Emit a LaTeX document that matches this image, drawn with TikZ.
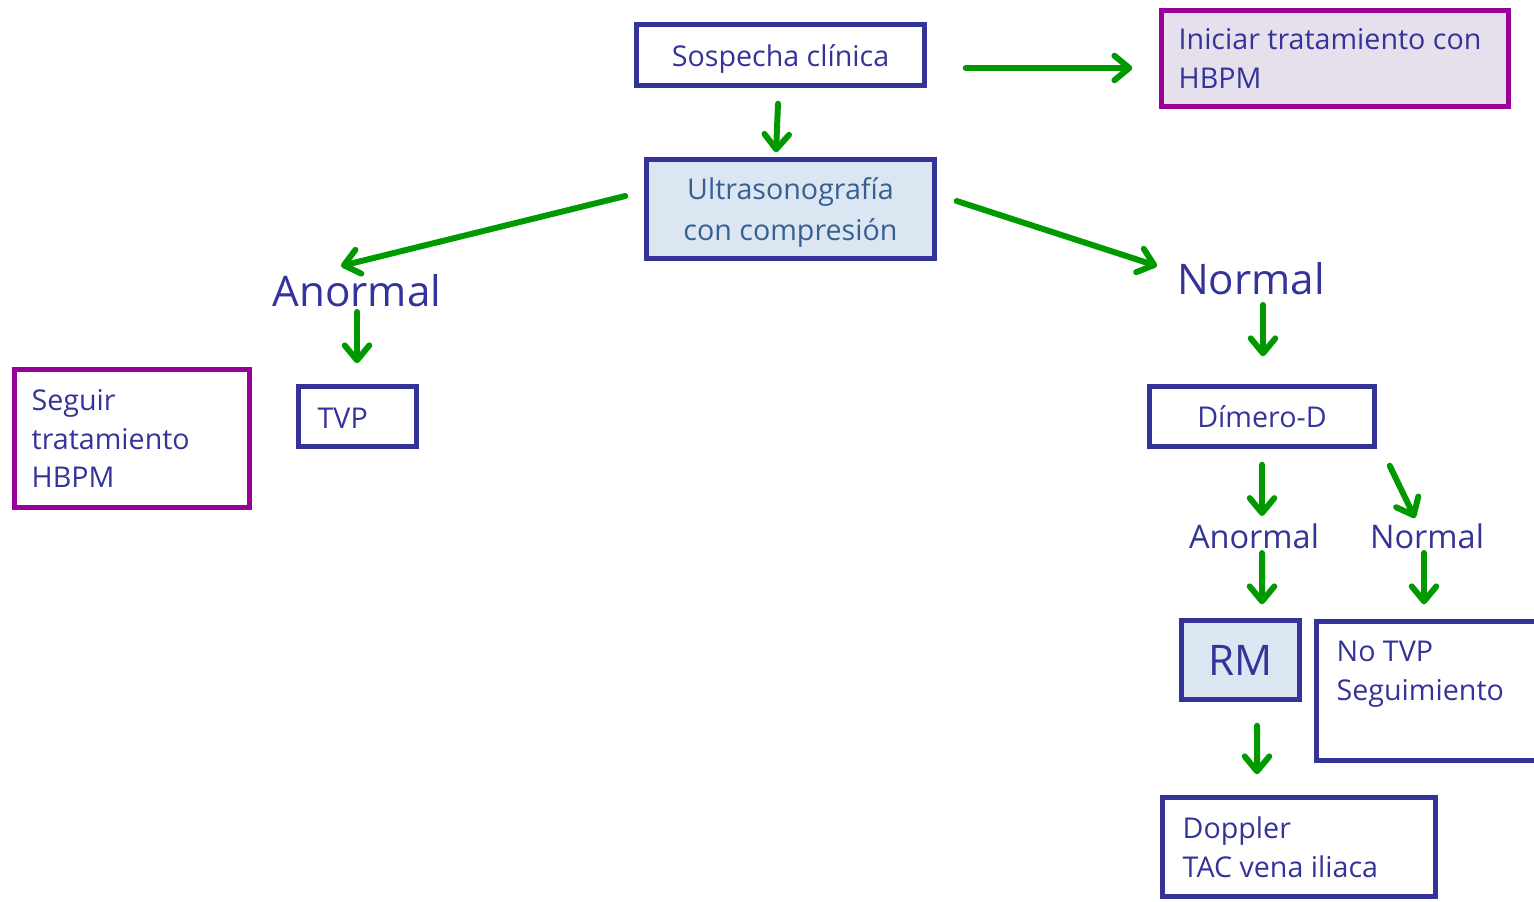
\documentclass[tikz,border=0pt]{standalone}
\usepackage{fontspec}
\setmainfont{Open Sans}
\usetikzlibrary{arrows.meta}
\definecolor{azul}{RGB}{51,51,153}
\definecolor{morado}{RGB}{153,0,153}
\definecolor{verde}{RGB}{0,153,0}
\definecolor{celeste}{RGB}{220,230,242}
\definecolor{lila}{RGB}{230,224,236}
\definecolor{azultexto}{RGB}{55,96,146}

\begin{document}
\begin{tikzpicture}[x=0.02cm,y=-0.02cm,
	caja/.style={draw=azul, line width=3.1pt, inner sep=0pt},
	cajamorada/.style={draw=morado, line width=3.1pt, inner sep=0pt},
	texto/.style={text=azul, font=\fontsize{16.3}{22}\selectfont, inner sep=0pt},
	grande/.style={text=azul, font=\fontsize{24}{28}\selectfont, inner sep=0pt},
	mediano/.style={text=azul, font=\fontsize{18.5}{22}\selectfont, inner sep=0pt},
	flecha/.style={draw=verde, line width=3.4pt, line cap=round, -{Straight Barb[length=8.5pt,width=14pt,round]}}]
		\useasboundingbox (0,0) rectangle (1534,902);
		% cajas
		\node[caja, texto, text height=17.5pt, minimum width=5.76cm, minimum height=1.22cm] (sospecha) at (780.5,55) {Sospecha clínica};
		\node[cajamorada, fill=lila, minimum width=6.94cm, minimum height=1.92cm] (iniciar) at (1335,58.5) {};
		\node[texto, anchor=west, align=left] (iniciartxt) at ([xshift=0.39cm]iniciar.west) {Iniciar tratamiento con\\HBPM};
		\node[caja, texto, font=\fontsize{16.3}{23}\selectfont, text depth=0pt, fill=celeste, text=azultexto, align=center, minimum width=5.76cm, minimum height=1.98cm] (ultra) at (790.5,209) {Ultrasonografía\\con compresión};
		\node[grande] (anormal) at (357,291) {Anormal};
		\node[grande] (normal) at (1251,279) {Normal};
		\node[caja, minimum width=2.36cm, minimum height=1.2cm] (tvp) at (357.5,416.5) {};
		\node[texto, anchor=west] (tvptxt) at ([shift={(0.43cm,-0.03cm)}]tvp.west) {TVP};
		\node[cajamorada, minimum width=4.7cm, minimum height=2.76cm] (seguir) at (132,438.5) {};
		\node[texto, anchor=west, align=left] (seguirtxt) at ([xshift=0.39cm]seguir.west) {Seguir\\tratamiento\\HBPM};
		\node[caja, texto, minimum width=4.5cm, minimum height=1.2cm] (dimero) at (1262,416.5) {Dímero-D};
		\node[mediano] (anormal2) at (1254,536) {Anormal};
		\node[mediano] (normal2) at (1427,536) {Normal};
		\node[caja, grande, fill=celeste, minimum width=2.36cm, minimum height=1.58cm] (rm) at (1240.5,660) {RM};
		\node[caja, minimum width=4.57cm, minimum height=2.78cm] (notvp) at (1430.75,691) {};
		\node[texto, anchor=west, align=left] (notvptxt) at ([shift={(0.45cm,0.33cm)}]notvp.west) {No TVP\\Seguimiento};
		\node[caja, minimum width=5.46cm, minimum height=1.98cm] (doppler) at (1299,847) {};
		\node[texto, anchor=west, align=left] (dopplertxt) at ([xshift=0.45cm]doppler.west) {Doppler\\TAC vena iliaca};
		% flechas
		\draw[flecha] ([shift={(-2.5,15.5)}]sospecha.south) -- ([shift={(-14.5,-4.5)}]ultra.north);
		\draw[flecha] ([shift={(38.5,13)}]sospecha.east) -- ([shift={(-26.5,9.5)}]iniciar.west);
		\draw[flecha] ([shift={(-18.5,-13)}]ultra.west) -- ([shift={(-16,-25)}]anormal.center);
		\draw[flecha] ([shift={(19.5,-8)}]ultra.east) -- ([shift={(-94,-13)}]normal.center);
		\draw[flecha] ([shift={(0,21)}]anormal.center) -- ([shift={(-0.5,-20.5)}]tvp.north);
		\draw[flecha] ([shift={(12,26)}]normal.center) -- ([shift={(1,-27.5)}]dimero.north);
		\draw[flecha] ([shift={(0,15.5)}]dimero.south) -- ([shift={(8,-20)}]anormal2.center);
		\draw[flecha] ([shift={(12.5,16.5)}]dimero.south east) -- ([shift={(-12,-18)}]normal2.center);
		\draw[flecha] ([shift={(8,17)}]anormal2.center) -- ([shift={(21.5,-13.5)}]rm.north);
		\draw[flecha] ([shift={(-3,17)}]normal2.center) -- ([shift={(-6.75,-14.5)}]notvp.north);
		\draw[flecha] ([shift={(16.5,23.5)}]rm.south) -- ([shift={(-42,-20.5)}]doppler.north);
\end{tikzpicture}
\end{document}
